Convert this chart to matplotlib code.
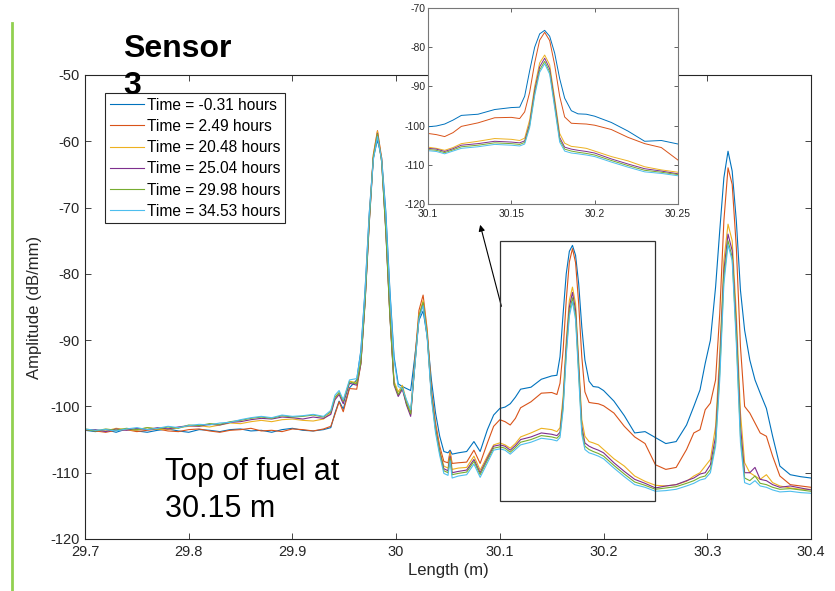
import matplotlib.pyplot as plt
from matplotlib.lines import Line2D
from matplotlib.patches import Rectangle

plt.rcParams['font.family'] = ['Liberation Sans', 'DejaVu Sans']
plt.rcParams['axes.unicode_minus'] = False

# distance along the fibre (m)
length = [29.70, 29.71, 29.72, 29.73, 29.74, 29.75, 29.76, 29.77, 29.78, 29.79, 29.80, 29.81,
          29.82, 29.83, 29.84, 29.85, 29.86, 29.87, 29.88, 29.89, 29.90, 29.91, 29.92, 29.93,
          29.937, 29.941, 29.945, 29.949, 29.955, 29.962, 29.966, 29.970, 29.974, 29.978, 29.982, 29.986,
          29.990, 29.994, 29.998, 30.002, 30.006, 30.010, 30.014, 30.018, 30.022, 30.026, 30.030, 30.034,
          30.038, 30.042, 30.046, 30.050, 30.052, 30.054, 30.060, 30.068, 30.075, 30.081, 30.088, 30.094,
          30.100, 30.105, 30.110, 30.115, 30.120, 30.130, 30.140, 30.150, 30.155, 30.158, 30.161, 30.164,
          30.167, 30.170, 30.173, 30.176, 30.179, 30.182, 30.186, 30.190, 30.195, 30.200, 30.210, 30.220,
          30.230, 30.240,
          30.250, 30.260, 30.270, 30.280, 30.287, 30.293, 30.298, 30.303, 30.308, 30.312, 30.316, 30.320,
          30.324, 30.328, 30.332, 30.336, 30.341, 30.346, 30.351, 30.357, 30.363, 30.370, 30.380, 30.390,
          30.400]

times = ['-0.31', '2.49', '20.48', '25.04', '29.98', '34.53']

amp_t1 = [-103.6, -103.8, -103.5, -103.9, -103.4, -103.7, -103.9, -103.6, -103.4, -103.7, -103.9, -103.5,
          -103.6, -103.8, -103.5, -103.4, -103.7, -103.6, -103.9, -103.5, -103.3, -103.6, -103.7, -103.5,
          -103.2, -101.0, -99.2, -100.4, -97.2, -96.0, -91.5, -82.5, -71.0, -62.5, -59.8, -62.5,
          -70.5, -82.5, -92.5, -96.6, -97.0, -97.3, -97.6, -92.5, -87.0, -85.6, -89.5, -96.0,
          -101.0, -104.5, -106.8, -107.0, -106.6, -107.2, -107.0, -106.8, -105.3, -106.8, -103.5, -101.3,
          -100.3, -100.1, -99.6, -98.6, -97.4, -97.1, -95.9, -95.4, -95.3, -92.5, -86.0, -80.0,
          -76.6, -75.7, -77.2, -81.5, -88.0, -93.0, -96.2, -97.0, -97.1, -97.6, -99.2, -101.4,
          -104.0, -103.8,
          -104.7, -105.6, -105.3, -102.8, -100.0, -97.5, -93.5, -90.0, -82.0, -73.5, -65.5, -61.5,
          -64.5, -72.0, -82.5, -88.5, -93.0, -96.0, -98.0, -100.3, -104.5, -109.0, -110.3, -110.6,
          -110.8]

amp_t2 = [-103.5, -103.7, -103.9, -103.6, -103.5, -103.8, -103.6, -103.4, -103.7, -103.8, -103.5, -103.4,
          -103.7, -103.9, -103.6, -103.5, -103.3, -103.7, -103.6, -103.8, -103.4, -103.5, -103.7, -103.4,
          -103.0, -101.2, -99.3, -100.8, -97.3, -97.4, -93.5, -84.0, -72.0, -62.0, -58.4, -62.5,
          -73.0, -86.0, -96.5, -98.3, -97.2, -99.6, -101.2, -93.0, -85.5, -83.2, -88.5, -97.5,
          -102.5, -106.0, -108.3, -108.5, -106.8, -108.6, -108.5, -108.4, -106.6, -108.6, -105.5, -103.0,
          -102.0, -102.3, -102.8, -101.8, -100.2, -99.3, -98.0, -97.9, -98.2, -96.5, -91.5, -84.0,
          -78.2, -76.2, -78.3, -84.5, -92.5, -97.8, -99.4, -99.5, -99.6, -99.9, -101.0, -103.0,
          -104.6, -105.6,
          -108.8, -109.5, -109.2, -106.5, -104.0, -103.5, -100.5, -99.5, -96.0, -86.0, -72.0, -64.0,
          -66.5, -76.0, -91.0, -100.0, -101.0, -102.5, -104.0, -104.5, -107.5, -110.5, -111.8, -112.0,
          -112.2]

amp_t3 = [-103.4, -103.6, -103.7, -103.3, -103.5, -103.6, -103.2, -103.4, -103.5, -103.2, -103.0, -102.9,
          -103.1, -102.8, -102.5, -102.6, -102.3, -102.1, -102.3, -102.0, -101.9, -102.1, -102.2, -101.9,
          -101.0, -98.8, -98.0, -99.3, -96.2, -96.4, -93.2, -84.2, -72.3, -62.2, -58.5, -62.8,
          -73.2, -86.2, -96.2, -97.8, -96.8, -99.2, -100.8, -93.5, -86.2, -84.0, -89.0, -98.0,
          -103.0, -106.5, -109.0, -109.3, -107.0, -109.5, -109.3, -109.2, -107.5, -109.6, -107.5, -105.8,
          -105.5, -105.8, -106.3, -105.6, -104.6, -104.0, -103.3, -103.5, -103.8, -103.2, -98.5, -90.0,
          -84.0, -82.0, -84.5, -93.0, -102.0, -104.5, -105.3, -105.5, -105.8, -106.5, -107.9, -109.0,
          -110.5, -111.3,
          -111.9, -112.0, -111.8, -111.3, -110.5, -110.0, -109.0, -108.0, -103.0, -92.0, -78.0, -72.5,
          -75.0, -86.0, -101.0, -108.5, -110.0, -110.5, -111.0, -110.3, -111.5, -112.0, -112.3, -112.5,
          -112.5]

amp_t4 = [-103.6, -103.5, -103.8, -103.4, -103.6, -103.3, -103.5, -103.2, -103.4, -103.1, -102.9, -103.0,
          -102.7, -102.8, -102.4, -102.3, -102.0, -101.8, -101.9, -101.6, -101.7, -101.9, -101.6, -101.8,
          -101.2, -99.0, -98.2, -99.6, -96.5, -96.8, -93.6, -84.5, -72.6, -62.6, -58.8, -63.0,
          -73.5, -86.5, -96.8, -98.5, -97.4, -99.8, -101.5, -93.8, -86.6, -84.5, -89.5, -98.3,
          -103.3, -106.8, -109.4, -109.7, -107.5, -110.0, -109.8, -109.6, -108.0, -110.0, -107.8, -106.0,
          -105.8, -106.0, -106.6, -105.9, -105.0, -104.6, -104.0, -104.2, -104.4, -103.9, -99.5, -91.0,
          -85.0, -82.8, -85.5, -94.0, -103.0, -105.5, -106.0, -106.3, -106.6, -107.0, -108.5, -109.8,
          -111.0, -111.6,
          -112.3, -112.0, -111.8, -111.2, -110.8, -110.2, -110.0, -108.8, -104.5, -93.5, -79.5, -74.0,
          -76.5, -88.0, -103.0, -110.0, -110.0, -109.2, -111.0, -111.2, -111.8, -112.2, -112.0, -112.3,
          -112.6]

amp_t5 = [-103.5, -103.7, -103.4, -103.6, -103.3, -103.5, -103.2, -103.4, -103.1, -103.3, -102.8, -102.9,
          -102.6, -102.7, -102.3, -102.1, -101.8, -101.6, -101.8, -101.4, -101.6, -101.5, -101.3, -101.6,
          -100.8, -98.6, -97.9, -99.2, -96.3, -96.6, -93.3, -84.3, -72.4, -62.4, -58.9, -63.1,
          -73.4, -86.4, -96.6, -98.2, -97.1, -99.5, -101.1, -93.9, -86.4, -84.3, -89.4, -98.4,
          -103.6, -107.0, -109.7, -110.0, -107.8, -110.3, -110.1, -109.9, -108.3, -110.3, -108.1, -106.3,
          -106.1, -106.3, -106.9, -106.2, -105.4, -105.0, -104.4, -104.6, -104.8, -104.3, -100.0, -91.8,
          -85.8, -83.6, -86.3, -94.8, -103.6, -106.0, -106.5, -106.8, -107.1, -107.5, -108.9, -110.2,
          -111.4, -111.9,
          -112.5, -112.3, -112.1, -111.6, -111.2, -110.7, -110.5, -109.5, -105.5, -95.0, -80.5, -75.0,
          -77.5, -89.5, -104.5, -110.8, -111.2, -110.5, -111.6, -111.8, -112.2, -112.5, -112.4, -112.6,
          -112.8]

amp_t6 = [-103.4, -103.6, -103.5, -103.7, -103.4, -103.2, -103.5, -103.3, -103.0, -103.2, -102.9, -102.7,
          -102.8, -102.5, -102.4, -102.0, -101.7, -101.5, -101.7, -101.3, -101.5, -101.4, -101.2, -101.5,
          -100.6, -98.3, -97.6, -99.0, -96.0, -95.8, -91.8, -82.8, -71.3, -62.8, -59.3, -62.8,
          -71.0, -83.0, -93.0, -97.0, -97.3, -99.0, -100.5, -94.0, -86.8, -84.8, -89.8, -98.8,
          -104.0, -107.4, -110.1, -110.4, -108.2, -110.8, -110.5, -110.3, -108.7, -110.7, -108.5, -106.6,
          -106.4, -106.6, -107.2, -106.5, -105.8, -105.4, -104.8, -105.0, -105.2, -104.7, -100.5, -92.4,
          -86.4, -84.2, -86.9, -95.5, -104.2, -106.5, -107.0, -107.2, -107.5, -107.9, -109.3, -110.6,
          -111.8, -112.2,
          -112.8, -112.7, -112.5, -112.0, -111.6, -111.1, -110.9, -110.0, -106.0, -96.0, -81.5, -75.6,
          -78.0, -90.5, -105.5, -111.5, -111.8, -111.2, -112.0, -112.2, -112.6, -112.9, -112.8, -113.0,
          -113.1]

series = [amp_t1, amp_t2, amp_t3, amp_t4, amp_t5, amp_t6]
colors = ['#0072BD', '#D95319', '#EDB120', '#7E2F8E', '#77AC30', '#4DBEEE']

zoom_x = (30.1, 30.25)
zoom_y = (-114.2, -75.0)

fig = plt.figure(figsize=(8.35, 5.91), dpi=100)
ax = fig.add_axes([85/835, 52/591, 726/835, 464/591])

for amp, t, c in zip(series, times, colors):
    ax.plot(length, amp, color=c, lw=0.8, label='Time = ' + t + ' hours')

ax.set_xlim(29.7, 30.4)
ax.set_ylim(-120, -50)
xt = [29.7, 29.8, 29.9, 30.0, 30.1, 30.2, 30.3, 30.4]
ax.set_xticks(xt)
ax.set_xticklabels(['29.7', '29.8', '29.9', '30', '30.1', '30.2', '30.3', '30.4'])
ax.set_yticks(range(-120, -49, 10))
ax.tick_params(direction='in', length=4, width=0.6, top=True, right=True,
               labelsize=10.5, colors='#262626', pad=4)
for s in ax.spines.values():
    s.set_color('#262626')
    s.set_linewidth(0.8)
ax.set_xlabel('Length (m)', fontsize=12, color='#262626', labelpad=3)
ax.set_ylabel('Amplitude (dB/mm)', fontsize=12, color='#262626', labelpad=6)

leg = ax.legend(loc='upper left', bbox_to_anchor=((105-85)/726, (539-93)/464), fontsize=11.2,
                fancybox=False, edgecolor='#262626', framealpha=1, borderaxespad=0,
                handlelength=2.2, labelspacing=0.4, borderpad=0.3, handletextpad=0.2)
leg.get_frame().set_linewidth(0.8)

ax.add_patch(Rectangle((zoom_x[0], zoom_y[0]), zoom_x[1] - zoom_x[0], zoom_y[1] - zoom_y[0],
                       fill=False, edgecolor='#333333', lw=0.9, zorder=5))
ax.annotate('', xy=(30.081, -72.6), xytext=(zoom_x[0] + 0.0015, -84.9),
            arrowprops=dict(arrowstyle='-|>', color='k', lw=0.8, mutation_scale=9,
                            shrinkA=0, shrinkB=0))

# zoomed inset
axin = fig.add_axes([428/835, 387/591, 250/835, 196/591])
for amp, c in zip(series, colors):
    axin.plot(length, amp, color=c, lw=0.7)
axin.set_xlim(*zoom_x)
axin.set_ylim(-120, -70)
axin.set_xticks([30.1, 30.15, 30.2, 30.25])
axin.set_xticklabels(['30.1', '30.15', '30.2', '30.25'])
axin.set_yticks(range(-120, -69, 10))
axin.tick_params(direction='in', length=3, width=0.5, top=True, right=True,
                 labelsize=7.5, colors='#262626', pad=2)
axin.tick_params(axis='x', pad=3.5)
for s in axin.spines.values():
    s.set_color('#777777')
    s.set_linewidth(0.8)

fig.text(123/835, 1 - 34/591, 'Sensor\n3', fontsize=23, fontweight='bold', va='top',
         linespacing=1.3)
fig.text(165/835, 1 - 457/591, 'Top of fuel at\n30.15 m', fontsize=22, va='top',
         linespacing=1.3)
fig.add_artist(Line2D([12/835, 12/835], [0, 1 - 23/591], color='#92D050', lw=2))

fig.savefig('out.png', dpi=100)
